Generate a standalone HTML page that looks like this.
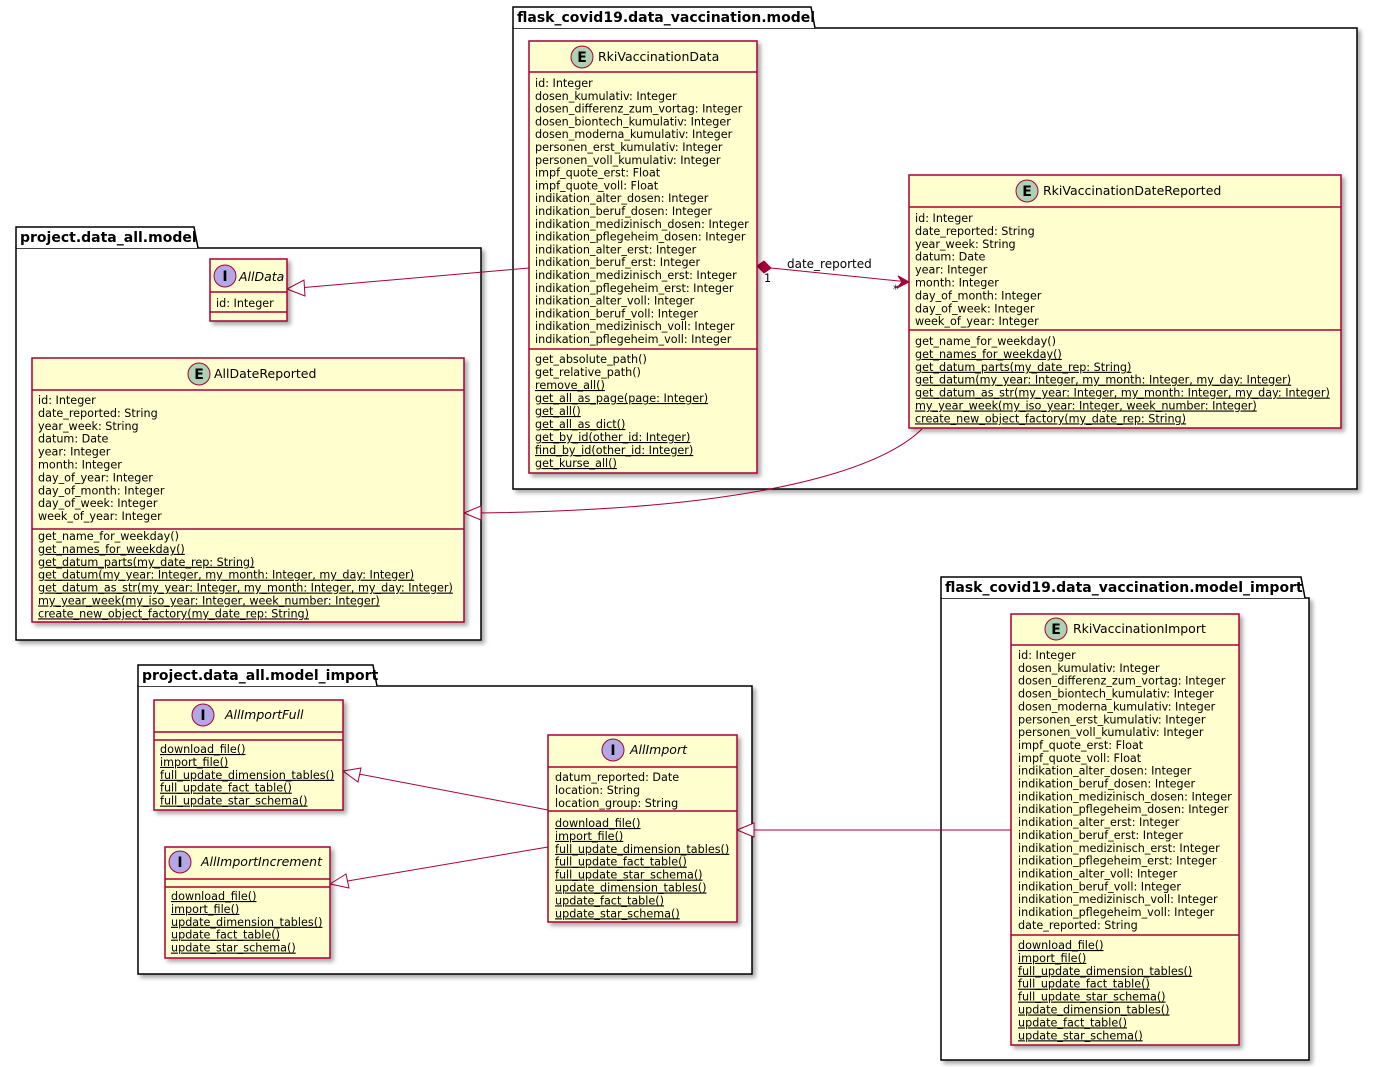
<!DOCTYPE html>
<html><head><meta charset="utf-8">
<style>
html,body{margin:0;padding:0;background:#fff;}
svg{display:block;}
text{font-family:"DejaVu Sans","Liberation Sans",sans-serif;font-size:11.2px;fill:#000;}
.u{text-decoration:underline;}
.pk{font-weight:bold;font-size:14px;}
.hd{font-size:12.5px;}
.box{fill:#FEFECE;stroke:#A80036;stroke-width:1.5;}
.ln{stroke:#A80036;stroke-width:1.5;}
.pkg{fill:#fff;stroke:#000;stroke-width:1.5;}
.cl{stroke:#A80036;stroke-width:1;fill:none;}
</style></head><body>
<svg width="1373" height="1067" viewBox="0 0 1373 1067" xmlns="http://www.w3.org/2000/svg" xml:space="preserve">
<defs>
<filter id="sh" x="-10%" y="-10%" width="130%" height="130%"><feDropShadow dx="3" dy="3" stdDeviation="2" flood-color="#000" flood-opacity="0.35"/></filter>
</defs>

<g filter="url(#sh)">
<rect class="pkg" x="513" y="28" width="844" height="461"/>
<rect class="pkg" x="16" y="248" width="465" height="392"/>
<rect class="pkg" x="138" y="686" width="614" height="288"/>
<rect class="pkg" x="941" y="598" width="368" height="462"/>
</g>
<path class="pkg" d="M513 28 V7 H811 L815 28"/>
<text class="pk" x="517" y="22">flask_covid19.data_vaccination.model</text>
<path class="pkg" d="M16 248 V227 H194 L198 248"/>
<text class="pk" x="20" y="242">project.data_all.model</text>
<path class="pkg" d="M138 686 V665 H373 L377 686"/>
<text class="pk" x="142" y="680">project.data_all.model_import</text>
<path class="pkg" d="M941 598 V577 H1301 L1305 598"/>
<text class="pk" x="945" y="592">flask_covid19.data_vaccination.model_import</text>

<path class="cl" d="M529 268 L287 289"/>
<path d="M287 289 L304 280 L305 296 Z" fill="#fff" stroke="#A80036"/>
<path class="cl" d="M771 268 L909 282"/>
<path d="M757 266 L764 261 L771 268 L764 273 Z" fill="#A80036" stroke="#A80036"/>
<path d="M909 282 L898 276 L902 282 L897 288 Z" fill="#A80036" stroke="#A80036"/>
<text x="787" y="268" style="font-size:12px">date_reported</text>
<text x="764" y="282">1</text>
<text x="893" y="293">*</text>
<path class="cl" d="M922 429 C880 470 780 490 700 500 C620 510 520 513 464 513"/>
<path d="M464 513 L481 506 L481 520 Z" fill="#fff" stroke="#A80036"/>
<path class="cl" d="M548 810 L343 771"/>
<path d="M343 771 L361 768 L358 782 Z" fill="#fff" stroke="#A80036"/>
<path class="cl" d="M548 847 L330 884"/>
<path d="M330 884 L346 874 L349 888 Z" fill="#fff" stroke="#A80036"/>
<path class="cl" d="M1011 830 L737 830"/>
<path d="M737 830 L754 823 L754 837 Z" fill="#fff" stroke="#A80036"/>

<rect class="box" filter="url(#sh)" x="529" y="41" width="228" height="432"/>
<line class="ln" x1="529" y1="72" x2="757" y2="72"/>
<line class="ln" x1="529" y1="349" x2="757" y2="349"/>
<circle cx="582" cy="57" r="11" fill="#ADD1B2" stroke="#A80036"/>
<text x="582" y="62" text-anchor="middle" style="font-weight:bold;font-size:14px">E</text>
<text class="hd" x="598" y="61">RkiVaccinationData</text>
<text x="535" y="87"><tspan x="535">id: Integer</tspan><tspan x="535" dy="12.8">dosen_kumulativ: Integer</tspan><tspan x="535" dy="12.8">dosen_differenz_zum_vortag: Integer</tspan><tspan x="535" dy="12.8">dosen_biontech_kumulativ: Integer</tspan><tspan x="535" dy="12.8">dosen_moderna_kumulativ: Integer</tspan><tspan x="535" dy="12.8">personen_erst_kumulativ: Integer</tspan><tspan x="535" dy="12.8">personen_voll_kumulativ: Integer</tspan><tspan x="535" dy="12.8">impf_quote_erst: Float</tspan><tspan x="535" dy="12.8">impf_quote_voll: Float</tspan><tspan x="535" dy="12.8">indikation_alter_dosen: Integer</tspan><tspan x="535" dy="12.8">indikation_beruf_dosen: Integer</tspan><tspan x="535" dy="12.8">indikation_medizinisch_dosen: Integer</tspan><tspan x="535" dy="12.8">indikation_pflegeheim_dosen: Integer</tspan><tspan x="535" dy="12.8">indikation_alter_erst: Integer</tspan><tspan x="535" dy="12.8">indikation_beruf_erst: Integer</tspan><tspan x="535" dy="12.8">indikation_medizinisch_erst: Integer</tspan><tspan x="535" dy="12.8">indikation_pflegeheim_erst: Integer</tspan><tspan x="535" dy="12.8">indikation_alter_voll: Integer</tspan><tspan x="535" dy="12.8">indikation_beruf_voll: Integer</tspan><tspan x="535" dy="12.8">indikation_medizinisch_voll: Integer</tspan><tspan x="535" dy="12.8">indikation_pflegeheim_voll: Integer</tspan></text>
<text x="535" y="363"><tspan x="535">get_absolute_path()</tspan><tspan x="535" dy="13">get_relative_path()</tspan><tspan x="535" dy="13" class="u">remove_all()</tspan><tspan x="535" dy="13" class="u">get_all_as_page(page: Integer)</tspan><tspan x="535" dy="13" class="u">get_all()</tspan><tspan x="535" dy="13" class="u">get_all_as_dict()</tspan><tspan x="535" dy="13" class="u">get_by_id(other_id: Integer)</tspan><tspan x="535" dy="13" class="u">find_by_id(other_id: Integer)</tspan><tspan x="535" dy="13" class="u">get_kurse_all()</tspan></text>

<rect class="box" filter="url(#sh)" x="909" y="175" width="432" height="253"/>
<line class="ln" x1="909" y1="207" x2="1341" y2="207"/>
<line class="ln" x1="909" y1="330" x2="1341" y2="330"/>
<circle cx="1027" cy="191" r="11" fill="#ADD1B2" stroke="#A80036"/>
<text x="1027" y="196" text-anchor="middle" style="font-weight:bold;font-size:14px">E</text>
<text class="hd" x="1043" y="195">RkiVaccinationDateReported</text>
<text x="915" y="222"><tspan x="915">id: Integer</tspan><tspan x="915" dy="12.9">date_reported:  String</tspan><tspan x="915" dy="12.9">year_week:  String</tspan><tspan x="915" dy="12.9">datum: Date</tspan><tspan x="915" dy="12.9">year: Integer</tspan><tspan x="915" dy="12.9">month: Integer</tspan><tspan x="915" dy="12.9">day_of_month: Integer</tspan><tspan x="915" dy="12.9">day_of_week: Integer</tspan><tspan x="915" dy="12.9">week_of_year: Integer</tspan></text>
<text x="915" y="345"><tspan x="915">get_name_for_weekday()</tspan><tspan x="915" dy="12.9" class="u">get_names_for_weekday()</tspan><tspan x="915" dy="12.9" class="u">get_datum_parts(my_date_rep: String)</tspan><tspan x="915" dy="12.9" class="u">get_datum(my_year: Integer, my_month: Integer, my_day: Integer)</tspan><tspan x="915" dy="12.9" class="u">get_datum_as_str(my_year: Integer, my_month: Integer, my_day: Integer)</tspan><tspan x="915" dy="12.9" class="u">my_year_week(my_iso_year: Integer, week_number: Integer)</tspan><tspan x="915" dy="12.9" class="u">create_new_object_factory(my_date_rep: String)</tspan></text>

<rect class="box" filter="url(#sh)" x="210" y="259" width="77" height="62"/>
<line class="ln" x1="210" y1="292" x2="287" y2="292"/>
<line class="ln" x1="210" y1="312" x2="287" y2="312"/>
<circle cx="225" cy="276" r="11" fill="#B4A7E5" stroke="#A80036"/>
<text x="225" y="281" text-anchor="middle" style="font-weight:bold;font-size:14px">I</text>
<text class="hd" x="239" y="281" style="font-style:italic">AllData</text>
<text x="216" y="307">id: Integer</text>

<rect class="box" filter="url(#sh)" x="32" y="358" width="432" height="264"/>
<line class="ln" x1="32" y1="390" x2="464" y2="390"/>
<line class="ln" x1="32" y1="529" x2="464" y2="529"/>
<circle cx="199" cy="374" r="11" fill="#ADD1B2" stroke="#A80036"/>
<text x="199" y="379" text-anchor="middle" style="font-weight:bold;font-size:14px">E</text>
<text class="hd" x="214" y="378">AllDateReported</text>
<text x="38" y="404"><tspan x="38">id: Integer</tspan><tspan x="38" dy="12.9">date_reported:  String</tspan><tspan x="38" dy="12.9">year_week:  String</tspan><tspan x="38" dy="12.9">datum: Date</tspan><tspan x="38" dy="12.9">year: Integer</tspan><tspan x="38" dy="12.9">month: Integer</tspan><tspan x="38" dy="12.9">day_of_year: Integer</tspan><tspan x="38" dy="12.9">day_of_month: Integer</tspan><tspan x="38" dy="12.9">day_of_week: Integer</tspan><tspan x="38" dy="12.9">week_of_year: Integer</tspan></text>
<text x="38" y="540"><tspan x="38">get_name_for_weekday()</tspan><tspan x="38" dy="12.9" class="u">get_names_for_weekday()</tspan><tspan x="38" dy="12.9" class="u">get_datum_parts(my_date_rep: String)</tspan><tspan x="38" dy="12.9" class="u">get_datum(my_year: Integer, my_month: Integer, my_day: Integer)</tspan><tspan x="38" dy="12.9" class="u">get_datum_as_str(my_year: Integer, my_month: Integer, my_day: Integer)</tspan><tspan x="38" dy="12.9" class="u">my_year_week(my_iso_year: Integer, week_number: Integer)</tspan><tspan x="38" dy="12.9" class="u">create_new_object_factory(my_date_rep: String)</tspan></text>

<rect class="box" filter="url(#sh)" x="154" y="700" width="189" height="110"/>
<line class="ln" x1="154" y1="732" x2="343" y2="732"/>
<line class="ln" x1="154" y1="740" x2="343" y2="740"/>
<circle cx="203" cy="715" r="11" fill="#B4A7E5" stroke="#A80036"/>
<text x="203" y="720" text-anchor="middle" style="font-weight:bold;font-size:14px">I</text>
<text class="hd" x="225" y="719" style="font-style:italic">AllImportFull</text>
<text x="160" y="753"><tspan x="160" class="u">download_file()</tspan><tspan x="160" dy="12.9" class="u">import_file()</tspan><tspan x="160" dy="12.9" class="u">full_update_dimension_tables()</tspan><tspan x="160" dy="12.9" class="u">full_update_fact_table()</tspan><tspan x="160" dy="12.9" class="u">full_update_star_schema()</tspan></text>

<rect class="box" filter="url(#sh)" x="165" y="847" width="165" height="111"/>
<line class="ln" x1="165" y1="879" x2="330" y2="879"/>
<line class="ln" x1="165" y1="887" x2="330" y2="887"/>
<circle cx="180" cy="862" r="11" fill="#B4A7E5" stroke="#A80036"/>
<text x="180" y="867" text-anchor="middle" style="font-weight:bold;font-size:14px">I</text>
<text class="hd" x="201" y="866" style="font-style:italic">AllImportIncrement</text>
<text x="171" y="900"><tspan x="171" class="u">download_file()</tspan><tspan x="171" dy="12.9" class="u">import_file()</tspan><tspan x="171" dy="12.9" class="u">update_dimension_tables()</tspan><tspan x="171" dy="12.9" class="u">update_fact_table()</tspan><tspan x="171" dy="12.9" class="u">update_star_schema()</tspan></text>

<rect class="box" filter="url(#sh)" x="548" y="735" width="189" height="187"/>
<line class="ln" x1="548" y1="767" x2="737" y2="767"/>
<line class="ln" x1="548" y1="811" x2="737" y2="811"/>
<circle cx="613" cy="750" r="11" fill="#B4A7E5" stroke="#A80036"/>
<text x="613" y="755" text-anchor="middle" style="font-weight:bold;font-size:14px">I</text>
<text class="hd" x="630" y="754" style="font-style:italic">AllImport</text>
<text x="555" y="781"><tspan x="555">datum_reported: Date</tspan><tspan x="555" dy="12.9">location: String</tspan><tspan x="555" dy="12.9">location_group: String</tspan></text>
<text x="555" y="827"><tspan x="555" class="u">download_file()</tspan><tspan x="555" dy="12.9" class="u">import_file()</tspan><tspan x="555" dy="12.9" class="u">full_update_dimension_tables()</tspan><tspan x="555" dy="12.9" class="u">full_update_fact_table()</tspan><tspan x="555" dy="12.9" class="u">full_update_star_schema()</tspan><tspan x="555" dy="12.9" class="u">update_dimension_tables()</tspan><tspan x="555" dy="12.9" class="u">update_fact_table()</tspan><tspan x="555" dy="12.9" class="u">update_star_schema()</tspan></text>

<rect class="box" filter="url(#sh)" x="1011" y="614" width="228" height="431"/>
<line class="ln" x1="1011" y1="645" x2="1239" y2="645"/>
<line class="ln" x1="1011" y1="935" x2="1239" y2="935"/>
<circle cx="1056" cy="629" r="11" fill="#ADD1B2" stroke="#A80036"/>
<text x="1056" y="634" text-anchor="middle" style="font-weight:bold;font-size:14px">E</text>
<text class="hd" x="1073" y="633">RkiVaccinationImport</text>
<text x="1018" y="659"><tspan x="1018">id: Integer</tspan><tspan x="1018" dy="12.85">dosen_kumulativ: Integer</tspan><tspan x="1018" dy="12.85">dosen_differenz_zum_vortag: Integer</tspan><tspan x="1018" dy="12.85">dosen_biontech_kumulativ: Integer</tspan><tspan x="1018" dy="12.85">dosen_moderna_kumulativ: Integer</tspan><tspan x="1018" dy="12.85">personen_erst_kumulativ: Integer</tspan><tspan x="1018" dy="12.85">personen_voll_kumulativ: Integer</tspan><tspan x="1018" dy="12.85">impf_quote_erst: Float</tspan><tspan x="1018" dy="12.85">impf_quote_voll: Float</tspan><tspan x="1018" dy="12.85">indikation_alter_dosen: Integer</tspan><tspan x="1018" dy="12.85">indikation_beruf_dosen: Integer</tspan><tspan x="1018" dy="12.85">indikation_medizinisch_dosen: Integer</tspan><tspan x="1018" dy="12.85">indikation_pflegeheim_dosen: Integer</tspan><tspan x="1018" dy="12.85">indikation_alter_erst: Integer</tspan><tspan x="1018" dy="12.85">indikation_beruf_erst: Integer</tspan><tspan x="1018" dy="12.85">indikation_medizinisch_erst: Integer</tspan><tspan x="1018" dy="12.85">indikation_pflegeheim_erst: Integer</tspan><tspan x="1018" dy="12.85">indikation_alter_voll: Integer</tspan><tspan x="1018" dy="12.85">indikation_beruf_voll: Integer</tspan><tspan x="1018" dy="12.85">indikation_medizinisch_voll: Integer</tspan><tspan x="1018" dy="12.85">indikation_pflegeheim_voll: Integer</tspan><tspan x="1018" dy="12.85">date_reported: String</tspan></text>
<text x="1018" y="949"><tspan x="1018" class="u">download_file()</tspan><tspan x="1018" dy="12.9" class="u">import_file()</tspan><tspan x="1018" dy="12.9" class="u">full_update_dimension_tables()</tspan><tspan x="1018" dy="12.9" class="u">full_update_fact_table()</tspan><tspan x="1018" dy="12.9" class="u">full_update_star_schema()</tspan><tspan x="1018" dy="12.9" class="u">update_dimension_tables()</tspan><tspan x="1018" dy="12.9" class="u">update_fact_table()</tspan><tspan x="1018" dy="12.9" class="u">update_star_schema()</tspan></text>
</svg>
</body></html>
